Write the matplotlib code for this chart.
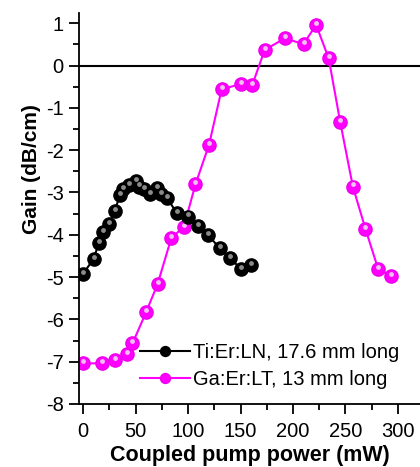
import matplotlib.pyplot as plt
import matplotlib.transforms as mtransforms
from matplotlib.ticker import MultipleLocator

plt.rcParams['font.family'] = ['Liberation Sans', 'DejaVu Sans']
plt.rcParams['axes.unicode_minus'] = False

# Ti:Er:LN, 17.6 mm long
ln_power = [0, 10, 15, 19, 25, 30, 35, 38, 44, 50, 53, 58, 64, 70, 74, 80,
            89, 100, 109, 119, 130, 140, 150, 160]
ln_gain = [-4.92, -4.57, -4.19, -3.94, -3.74, -3.45, -3.06, -2.93, -2.82, -2.74,
           -2.86, -2.92, -3.04, -2.90, -3.04, -3.13, -3.48, -3.57, -3.80, -4.00,
           -4.32, -4.55, -4.80, -4.71]

# Ga:Er:LT, 13 mm long
lt_power = [0, 18, 30, 42, 47, 60, 71, 84, 96, 107, 120, 132, 150, 161, 173,
            192, 210, 222, 234, 245, 257, 269, 281, 293]
lt_gain = [-7.04, -7.04, -6.96, -6.81, -6.57, -5.83, -5.16, -4.08, -3.81, -2.81,
           -1.87, -0.56, -0.44, -0.47, 0.37, 0.64, 0.51, 0.96, 0.17, -1.34,
           -2.86, -3.86, -4.80, -4.98]

fig = plt.figure(figsize=(4.2, 4.67), dpi=100)
ax = fig.add_axes([0.188, 0.135, 0.812, 0.837])

ax.axhline(0, color='black', lw=1.5, zorder=1)

# shiny ball look: big marker + small lighter highlight shifted up
hl = mtransforms.offset_copy(ax.transData, fig=fig, x=0, y=1.5, units='points')

ax.plot(ln_power, ln_gain, '-', color='black', lw=1.5, marker='o', ms=9.5,
        mfc='black', mec='black', label='Ti:Er:LN, 17.6 mm long', zorder=3)
ax.plot(ln_power, ln_gain, 'o', ms=3.5, mfc='#8a8a8a', mec='none',
        transform=hl, zorder=4)

ax.plot(lt_power, lt_gain, '-', color='#ff00ff', lw=1.5, marker='o', ms=9.5,
        mfc='#ff00ff', mec='#ee00ee', label='Ga:Er:LT, 13 mm long', zorder=2)
ax.plot(lt_power, lt_gain, 'o', ms=3.5, mfc='#f2c0f2', mec='none',
        transform=hl, zorder=2.5)

ax.set_xlim(-4, 321)
ax.set_ylim(-8, 1.24)
ax.xaxis.set_major_locator(MultipleLocator(50))
ax.xaxis.set_minor_locator(MultipleLocator(25))
ax.yaxis.set_major_locator(MultipleLocator(1))
ax.yaxis.set_minor_locator(MultipleLocator(0.5))
ax.spines['top'].set_visible(False)
ax.spines['right'].set_visible(False)
for s in ('left', 'bottom'):
    ax.spines[s].set_linewidth(1.3)
ax.tick_params(which='major', length=7, width=1.3, labelsize=14.5)
ax.tick_params(which='minor', length=4, width=1.3)
ax.tick_params(axis='x', which='major', pad=6)
ax.tick_params(axis='y', which='major', pad=4)

ax.set_xlabel('Coupled pump power (mW)', fontsize=15.5, fontweight='bold',
              labelpad=3)
ax.set_ylabel('Gain (dB/cm)', fontsize=15, fontweight='bold')
ax.yaxis.set_label_coords(-0.11, 0.60)

ax.legend(loc='upper left', bbox_to_anchor=(0.179, 0.155), frameon=False,
          fontsize=14.5, handlelength=2.5, handletextpad=0.15, labelspacing=0.4,
          borderaxespad=0, borderpad=0, markerscale=0.75)

fig.savefig('out.png', dpi=100)
